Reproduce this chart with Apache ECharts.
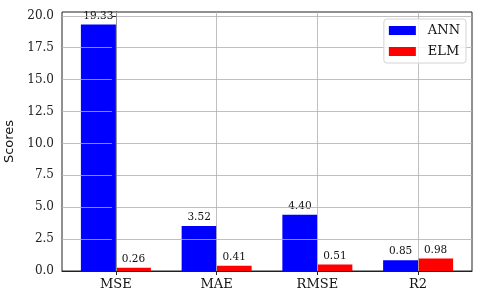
<!DOCTYPE html>
<html><head><meta charset="utf-8">
<script src="https://cdn.jsdelivr.net/npm/echarts@6/dist/echarts.min.js"></script>
<style>html,body{margin:0;padding:0;background:#fff}#c{width:480px;height:302px}</style>
</head><body><div id="c"></div>
<script>
const categories = ['MSE', 'MAE', 'RMSE', 'R2'];
const annValues = [19.33, 3.52, 4.40, 0.85];
const elmValues = [0.26, 0.41, 0.51, 0.98];
const yTicks = [0, 2.5, 5, 7.5, 10, 12.5, 15, 17.5, 20];
const xTicks = categories.map((c, i) => i);

const serif = 'DejaVu Serif';
const chart = echarts.init(document.getElementById('c'), null, {renderer: 'canvas'});
const labelCfg = {
  show: true, position: 'top', distance: 3,
  fontFamily: serif, fontSize: 10.5, color: '#111',
  formatter: p => p.value[1].toFixed(2)
};
const gridLine = {show: true, lineStyle: {color: '#b0b0b0', width: 0.8}};
chart.setOption({
  animation: false,
  backgroundColor: '#fff',
  grid: {left: 62, right: 8, top: 12, bottom: 31, show: true, borderColor: '#222', borderWidth: 1,
    backgroundColor: 'transparent', containLabel: false, outerBoundsMode: 'none'},
  legend: {
    orient: 'vertical', right: 14, top: 19,
    data: ['ANN', 'ELM'],
    itemWidth: 27, itemHeight: 9, itemGap: 8,
    padding: [5, 6, 5, 5],
    borderColor: '#d4d4d4', borderWidth: 1, borderRadius: 3,
    backgroundColor: 'rgba(255,255,255,0.8)',
    icon: 'rect', z: 10,
    textStyle: {fontFamily: serif, fontSize: 13, color: '#111', padding: [0, 0, 0, 7]}
  },
  xAxis: {
    type: 'value', min: -0.535, max: 3.535, z: 4,
    axisLine: {show: true, onZero: false, lineStyle: {color: '#222', width: 1}},
    axisTick: {show: true, length: 4, customValues: xTicks, lineStyle: {color: '#222'}},
    axisLabel: {fontFamily: serif, fontSize: 13, color: '#111', margin: 7,
      customValues: xTicks, formatter: v => categories[v] ?? ''},
    splitLine: gridLine
  },
  yAxis: {
    type: 'value', min: 0, max: 20.3, z: 3,
    name: 'Scores', nameLocation: 'middle', nameGap: 43, nameRotate: 90,
    nameTextStyle: {fontFamily: 'DejaVu Sans', fontSize: 13, color: '#111'},
    axisLine: {show: true, lineStyle: {color: '#222', width: 1}},
    axisTick: {show: true, length: 4, customValues: yTicks, lineStyle: {color: '#222'}},
    axisLabel: {fontFamily: serif, fontSize: 12, color: '#222', margin: 8,
      customValues: yTicks, formatter: v => v.toFixed(1)},
    splitLine: Object.assign({showMinLine: false}, gridLine)
  },
  series: [
    {name: 'ANN', type: 'bar', data: categories.map((c, i) => [i, annValues[i]]),
     barWidth: 35, barGap: '0%',
     itemStyle: {color: '#0000ff'}, label: labelCfg},
    {name: 'ELM', type: 'bar', data: categories.map((c, i) => [i, elmValues[i]]),
     barWidth: 35, barGap: '0%',
     itemStyle: {color: '#ff0000'}, label: labelCfg}
  ]
});
</script></body></html>
